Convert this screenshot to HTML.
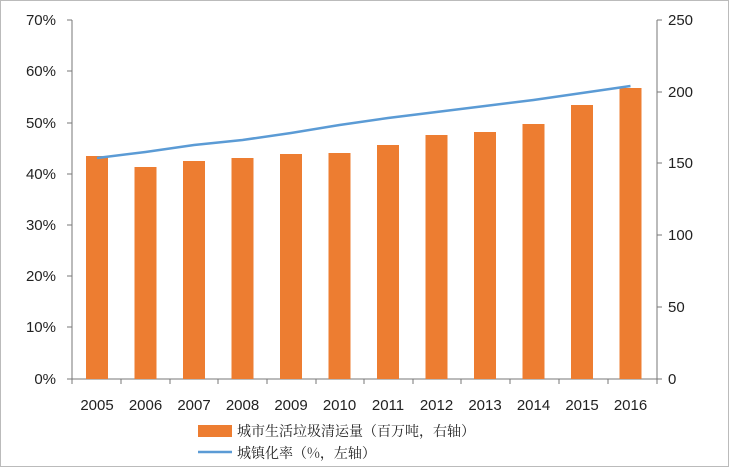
<!DOCTYPE html>
<html><head><meta charset="utf-8"><style>
html,body{margin:0;padding:0;background:#fff}
svg{display:block;font-family:"Liberation Sans","Noto Sans CJK SC",sans-serif}
</style></head><body>
<svg width="734" height="471" viewBox="0 0 734 471" xmlns="http://www.w3.org/2000/svg">
<rect x="0.5" y="0.5" width="728" height="466" fill="#fff" stroke="#bbb"/>
<g stroke="#777" stroke-width="1">
<line x1="72" y1="20" x2="72" y2="379"/>
<line x1="657" y1="20" x2="657" y2="379"/>
<line x1="72" y1="379" x2="657" y2="379"/>
<path d="M67 20H72M67 71H72M67 123H72M67 174H72M67 225H72M67 276H72M67 327H72M67 379H72M657 20H662M657 92H662M657 163H662M657 235H662M657 307H662M657 379H662"/>
<path d="M72 379V384M121 379V384M170 379V384M218 379V384M267 379V384M316 379V384M364 379V384M413 379V384M461 379V384M510 379V384M559 379V384M608 379V384M657 379V384"/>
</g>
<g fill="#ed7d31">
<rect x="86" y="156" width="22" height="223"/>
<rect x="134.5" y="167" width="22" height="212"/>
<rect x="183" y="161" width="22" height="218"/>
<rect x="231.5" y="158" width="22" height="221"/>
<rect x="280" y="154" width="22" height="225"/>
<rect x="328.5" y="153" width="22" height="226"/>
<rect x="377" y="145" width="22" height="234"/>
<rect x="425.5" y="135" width="22" height="244"/>
<rect x="474" y="132" width="22" height="247"/>
<rect x="522.5" y="124" width="22" height="255"/>
<rect x="571" y="105" width="22" height="274"/>
<rect x="619.5" y="88" width="22" height="291"/>
</g>
<polyline fill="none" stroke="#5b9bd5" stroke-width="2.5" points="97,158 145.5,152 194,145 242.5,140 291,133 339.5,125 388,118 436.5,112 485,106 533.5,100 582,93 630.5,86"/>
<g font-size="15" fill="#222" text-anchor="end">
<text x="56" y="25">70%</text><text x="56" y="76">60%</text><text x="56" y="128">50%</text><text x="56" y="179">40%</text><text x="56" y="230">30%</text><text x="56" y="281">20%</text><text x="56" y="332">10%</text><text x="56" y="384">0%</text>
</g>
<g font-size="15" fill="#222" text-anchor="start">
<text x="668" y="25">250</text><text x="668" y="97">200</text><text x="668" y="168">150</text><text x="668" y="240">100</text><text x="668" y="312">50</text><text x="668" y="384">0</text>
</g>
<g font-size="15" fill="#222" text-anchor="middle">
<text x="97" y="410">2005</text><text x="145.5" y="410">2006</text><text x="194" y="410">2007</text><text x="242.5" y="410">2008</text><text x="291" y="410">2009</text><text x="339.5" y="410">2010</text><text x="388" y="410">2011</text><text x="436.5" y="410">2012</text><text x="485" y="410">2013</text><text x="533.5" y="410">2014</text><text x="582" y="410">2015</text><text x="630.5" y="410">2016</text>
</g>
<rect x="198" y="425" width="34" height="12" fill="#ed7d31"/>
<line x1="198" y1="452" x2="232" y2="452" stroke="#5b9bd5" stroke-width="2.5"/>
<g font-size="14" fill="#222" font-family="'Noto Serif CJK SC','Noto Sans CJK SC',serif">
<text x="237" y="436">城市生活垃圾清运量（百万吨，右轴）</text>
<text x="237" y="458">城镇化率（%，左轴）</text>
</g>
</svg>
</body></html>
